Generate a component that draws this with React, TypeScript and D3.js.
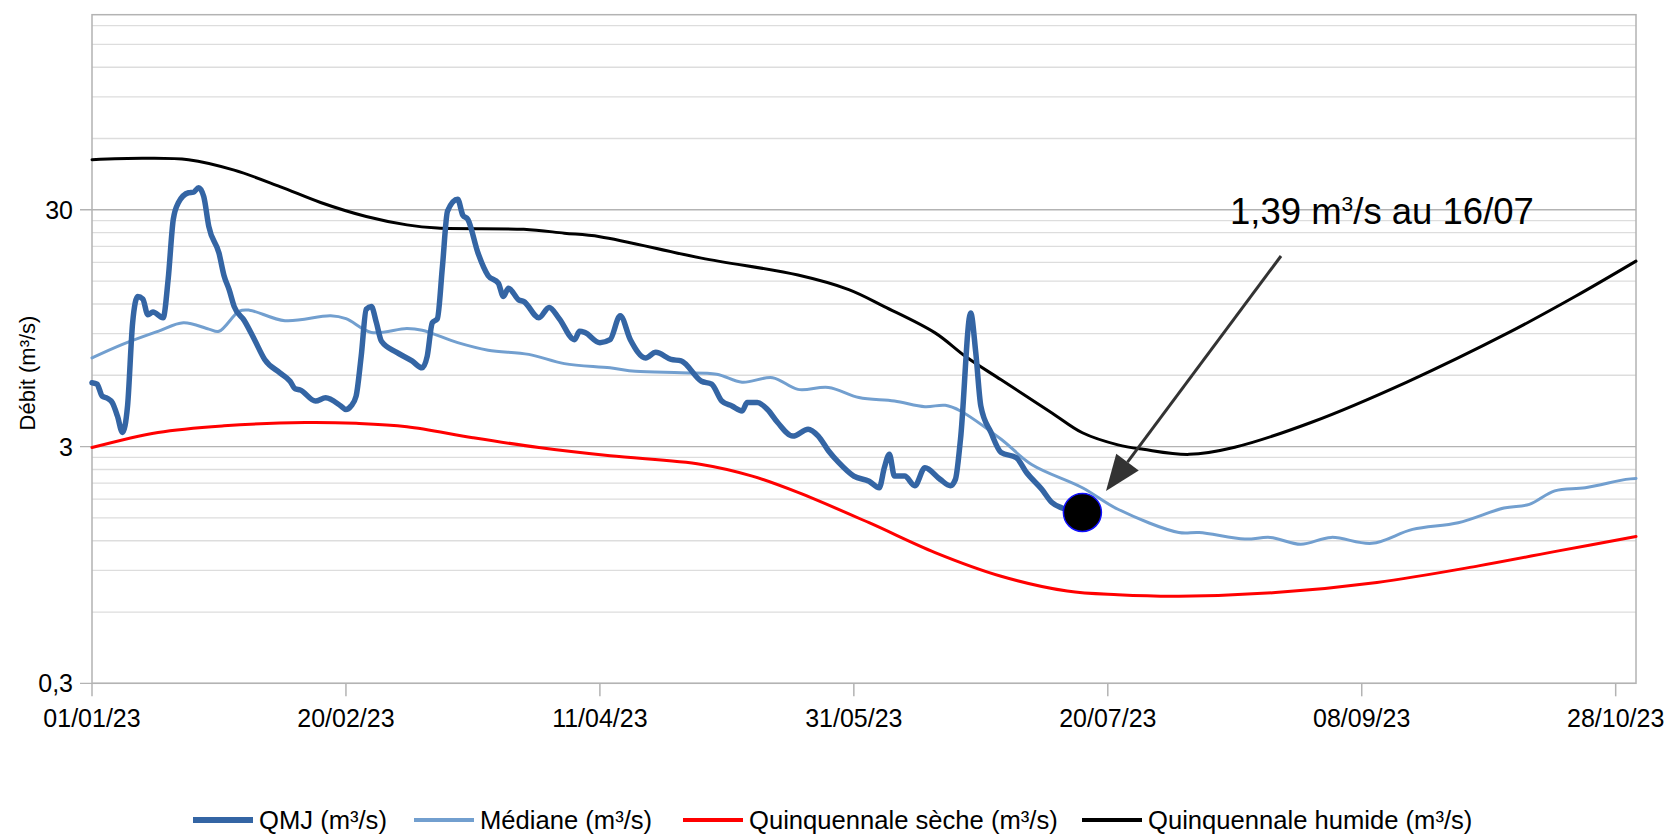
import React from 'react';
import * as d3 from 'd3';

// x axis: dates, tick labels are real dd/mm/yy dates
const X_START = '01/01/23';
const X_END = '01/11/23';
const X_TICK_LABELS = ['01/01/23', '20/02/23', '11/04/23', '31/05/23', '20/07/23', '08/09/23', '28/10/23'];

// y axis (log)
const Y_MIN = 0.3;
const Y_MAX = 200;
const Y_TICKS = [0.3, 3, 30];
const Y_TICK_LABELS = ['0,3', '3', '30'];
const Y_TITLE = 'Débit (m³/s)';

// series: [days since 01/01/23, débit m³/s]
const QMJ: [number, number][] = [
  [0, 5.58], [1, 5.5], [2, 4.9], [3, 4.8], [4, 4.6], [5, 4.04], [6, 3.44], [7, 4.45],
  [8, 10.0], [9, 12.9], [10, 12.6], [11, 10.8], [12, 11.1], [14, 10.5], [15, 15.3],
  [16, 27.3], [17, 32.1], [19, 35.4], [20, 35.6], [21, 37.2], [22, 34.1], [23, 25.5],
  [25, 19.7], [26, 15.8], [27, 13.8], [28, 11.7], [30, 10.2], [32, 8.48], [34, 7.0],
  [37, 6.14], [39, 5.66], [40, 5.26], [41, 5.2], [44, 4.67], [46, 4.82], [49, 4.45],
  [50, 4.3], [51, 4.45], [52, 4.9], [53, 7.22], [54, 11.4], [55, 11.7], [56, 10.0],
  [57, 8.35], [60, 7.5], [63, 6.9], [65, 6.45], [66, 7.22], [67, 10.0], [68, 10.4],
  [69, 17.3], [70, 29.6], [72, 33.2], [73, 28.5], [74, 27.3], [76, 19.7], [78, 15.8],
  [80, 14.7], [81, 12.9], [82, 14.0], [84, 12.5], [85, 12.3], [88, 10.5], [90, 11.6],
  [92, 10.4], [95, 8.48], [96, 9.2], [97, 9.1], [100, 8.24], [102, 8.48], [104, 10.7],
  [106, 8.48], [109, 7.1], [111, 7.5], [114, 7.0], [116, 6.9], [120, 5.66], [122, 5.5],
  [124, 4.67], [126, 4.45], [128, 4.24], [129, 4.6], [131, 4.6], [133, 4.3], [135, 3.79],
  [138, 3.32], [141, 3.55], [143, 3.32], [145, 2.88], [147, 2.57], [150, 2.25],
  [153, 2.14], [155, 2.01], [156, 2.44], [157, 2.78], [158, 2.25], [160, 2.25],
  [162, 2.05], [164, 2.44], [167, 2.18], [169, 2.05], [170, 2.18], [171, 3.22],
  [173, 11.0], [174, 7.5], [175, 4.45], [177, 3.44], [179, 2.83], [182, 2.69],
  [184, 2.33], [187, 1.98], [189, 1.74], [191, 1.65], [195, 1.58],
];

const MEDIANE: [number, number][] = [
  [0, 7.1], [6, 8.1], [13, 9.2], [18, 10.0], [23, 9.4], [25, 9.2], [29, 11.2], [31, 11.3],
  [38, 10.2], [47, 10.7], [50, 10.4], [55, 9.1], [62, 9.45], [65, 9.3], [72, 8.24],
  [78, 7.66], [86, 7.35], [93, 6.72], [102, 6.45], [107, 6.24], [116, 6.15], [123, 6.06],
  [128, 5.61], [134, 5.86], [139, 5.23], [145, 5.33], [151, 4.83], [158, 4.67],
  [164, 4.42], [168, 4.48], [171, 4.24], [179, 3.22], [185, 2.52], [195, 2.01],
  [202, 1.63], [214, 1.3], [218, 1.3], [227, 1.22], [232, 1.24], [238, 1.16], [244, 1.24],
  [252, 1.17], [260, 1.34], [269, 1.43], [278, 1.65], [283, 1.71], [288, 1.95],
  [294, 2.01], [302, 2.18], [304, 2.2],
];

const SECHE: [number, number][] = [
  [0, 2.97], [13, 3.44], [26, 3.67], [42, 3.79], [52, 3.76], [62, 3.64], [75, 3.27],
  [88, 2.97], [102, 2.74], [120, 2.52], [130, 2.25], [139, 1.92], [153, 1.43],
  [166, 1.07], [179, 0.85], [192, 0.736], [202, 0.71], [214, 0.7], [233, 0.725],
  [253, 0.8], [273, 0.94], [289, 1.09], [304, 1.25],
];

const HUMIDE: [number, number][] = [
  [0, 48.8], [10, 49.5], [19, 48.8], [28, 44.1], [37, 37.6], [45, 32.2], [54, 28.1],
  [62, 25.9], [68, 25.1], [85, 24.8], [93, 23.9], [100, 23.1], [120, 18.75], [139, 15.9],
  [149, 13.8], [156, 11.7], [166, 9.06], [172, 7.2], [179, 5.74], [189, 4.16],
  [195, 3.43], [202, 3.05], [207, 2.92], [216, 2.78], [225, 2.98], [240, 3.79],
  [259, 5.63], [279, 9.1], [292, 12.9], [304, 18.2],
];

const SERIES_NAMES = ['QMJ (m³/s)', 'Médiane (m³/s)', 'Quinquennale sèche (m³/s)', 'Quinquennale humide (m³/s)'];
const ANNOTATION = ['1,39 m', '3', '/s au 16/07'];

const W = 1670;
const H = 835;
const M = { left: 92, right: 1636, top: 14.7, bottom: 683.3 };
const FONT = '"Liberation Sans", Arial, sans-serif';

const parse = d3.timeParse('%d/%m/%y');

const App: React.FC = () => {
  const start = parse(X_START) as Date;
  const x = d3.scaleTime().domain([start, parse(X_END) as Date]).range([M.left, M.right]);
  const y = d3.scaleLog().domain([Y_MIN, Y_MAX]).range([M.bottom, M.top]);
  const xd = (d: number) => x(d3.timeDay.offset(start, d));

  const jagged = d3.line<[number, number]>()
    .x(d => xd(d[0]))
    .y(d => y(d[1]))
    .curve(d3.curveMonotoneX);
  const smooth = d3.line<[number, number]>()
    .x(d => xd(d[0]))
    .y(d => y(d[1]))
    .curve(d3.curveCatmullRom.alpha(0.5));

  // minor grid: 2..9 × each decade
  const minor: number[] = [];
  Y_TICKS.forEach(t => {
    for (let k = 2; k <= 9; k++) {
      const v = t * k;
      if (v < Y_MAX) minor.push(v);
    }
  });

  const series = [
    { data: QMJ, color: '#3465a4', width: 5.5, legendWidth: 6, gen: jagged },
    { data: MEDIANE, color: '#729fcf', width: 3, legendWidth: 4, gen: smooth },
    { data: SECHE, color: '#ff0000', width: 3, legendWidth: 4, gen: smooth },
    { data: HUMIDE, color: '#000000', width: 3, legendWidth: 4, gen: smooth },
  ];
  const legendX = [193, 414, 683, 1082];

  const last = QMJ[QMJ.length - 1];

  // arrow
  const a0 = { x: 1281, y: 256 };
  const a1 = { x: 1106, y: 491 };
  const len = Math.hypot(a1.x - a0.x, a1.y - a0.y);
  const ux = (a1.x - a0.x) / len;
  const uy = (a1.y - a0.y) / len;
  const headL = 36, headW = 14;
  const bx = a1.x - ux * headL, by = a1.y - uy * headL;
  const head = `${a1.x},${a1.y} ${bx - uy * headW},${by + ux * headW} ${bx + uy * headW},${by - ux * headW}`;

  return (
    <svg width={W} height={H} style={{ position: 'absolute', left: 0, top: 0, background: '#fff' }} fontFamily={FONT}>
      <rect width={W} height={H} fill="#fff" />
      {minor.map(v => (
        <line key={'m' + v} x1={M.left} x2={M.right} y1={y(v)} y2={y(v)} stroke="#dddddd" strokeWidth={1.3} />
      ))}
      {Y_TICKS.map(v => (
        <line key={'g' + v} x1={M.left - 12} x2={M.right} y1={y(v)} y2={y(v)} stroke="#b3b3b3" strokeWidth={1.3} />
      ))}
      {/* frame */}
      <rect x={M.left} y={M.top} width={M.right - M.left} height={M.bottom - M.top} fill="none" stroke="#b3b3b3" strokeWidth={1.5} />
      {X_TICK_LABELS.map(l => {
        const px = x(parse(l) as Date);
        return (
          <g key={l}>
            <line x1={px} x2={px} y1={M.bottom} y2={M.bottom + 13} stroke="#b3b3b3" strokeWidth={1.5} />
            <text x={px} y={727} textAnchor="middle" fontSize={25} fill="#000">{l}</text>
          </g>
        );
      })}
      {Y_TICKS.map((v, i) => (
        <text key={'yl' + v} x={73} y={y(v)} dy="0.36em" textAnchor="end" fontSize={25} fill="#000">{Y_TICK_LABELS[i]}</text>
      ))}
      <text transform="translate(27,373) rotate(-90)" textAnchor="middle" dy="0.35em" fontSize={22} fill="#000">{Y_TITLE}</text>

      {series.slice().reverse().map((s, i) => (
        <path key={'s' + i} d={s.gen(s.data) || ''} fill="none" stroke={s.color} strokeWidth={s.width}
          strokeLinejoin="round" strokeLinecap="round" />
      ))}

      <circle cx={xd(last[0])} cy={y(last[1])} r={19} fill="#000" stroke="#1010ff" strokeWidth={1.5} />

      <line x1={a0.x} y1={a0.y} x2={bx} y2={by} stroke="#333" strokeWidth={3} />
      <polygon points={head} fill="#333" />
      <text x={1230} y={224} fontSize={36.5} fill="#000">
        {ANNOTATION[0]}
        <tspan dy={-13} fontSize={21}>{ANNOTATION[1]}</tspan>
        <tspan dy={13}>{ANNOTATION[2]}</tspan>
      </text>

      {series.map((s, i) => (
        <g key={'lg' + i}>
          <line x1={legendX[i]} x2={legendX[i] + 60} y1={820} y2={820} stroke={s.color} strokeWidth={s.legendWidth} />
          <text x={legendX[i] + 66} y={829} fontSize={25.6} fill="#000">{SERIES_NAMES[i]}</text>
        </g>
      ))}
    </svg>
  );
};

export default App;
